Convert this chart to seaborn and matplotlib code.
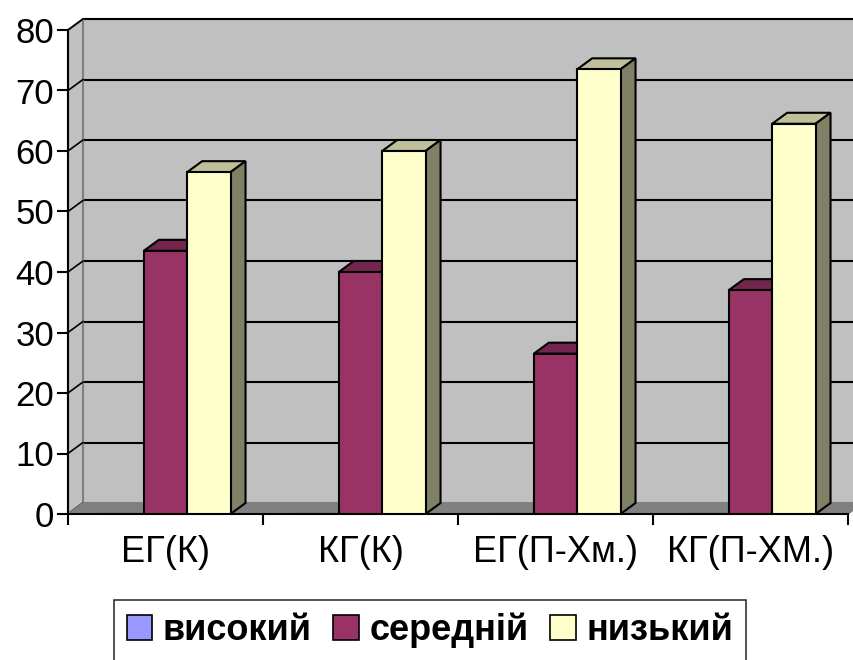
import matplotlib
matplotlib.use("Agg")
import matplotlib.pyplot as plt
from matplotlib.patches import Polygon, Rectangle
import seaborn as sns
import pandas as pd

categories = ["ЕГ(К)", "КГ(К)", "ЕГ(П-Хм.)", "КГ(П-ХМ.)"]
levels = ["високий", "середній", "низький"]
high = [0, 0, 0, 0]
medium = [43.5, 40, 26.5, 37]
low = [56.5, 60, 73.5, 64.5]
yticks = [0, 10, 20, 30, 40, 50, 60, 70, 80]

front_colors = ["#9999FF", "#993366", "#FFFFCC"]
top_colors = ["#7373BF", "#73264D", "#BFBF99"]
side_colors = ["#4D4D80", "#4D1A33", "#808066"]

df = pd.DataFrame({
    "group": categories * 3,
    "level": [levels[0]] * 4 + [levels[1]] * 4 + [levels[2]] * 4,
    "value": high + medium + low,
})

sns.set_style("white")
plt.rcParams["font.family"] = ["Liberation Sans", "DejaVu Sans"]
plt.rcParams["text.color"] = "black"
plt.rcParams["xtick.color"] = "black"
plt.rcParams["ytick.color"] = "black"
plt.rcParams["axes.labelcolor"] = "black"

fig = plt.figure(figsize=(8.54, 6.6), dpi=100)
ax = fig.add_axes([68 / 854, 1 - 514 / 660, 780 / 854, 484 / 660])

sns.barplot(data=df, x="group", y="value", hue="level", order=categories,
            hue_order=levels, palette=front_colors, width=0.667,
            edgecolor="black", linewidth=1.5, saturation=1, ax=ax, zorder=3)
ax.get_legend().remove()

xmin, xmax = -0.5, len(categories) - 0.5
ax.set_xlim(xmin, xmax)
ax.set_ylim(0, 80)

# depth offset of the pseudo 3D look, converted from pixels to data units
depth_x, depth_y = 15, 11
dx = depth_x / (780 / (xmax - xmin))
dy = depth_y / (484 / 80)

# back wall, side wall and floor
ax.add_patch(Rectangle((xmin + dx, dy), xmax - xmin, 80, facecolor="#C0C0C0",
                       edgecolor="#808080", lw=1.5, zorder=0, clip_on=False))
ax.add_patch(Polygon([(xmin, 0), (xmin + dx, dy), (xmin + dx, 80 + dy), (xmin, 80)],
                     closed=True, facecolor="#C0C0C0", edgecolor="#808080",
                     lw=1.5, zorder=0.6, clip_on=False))
for v in yticks[1:]:
    ax.plot([xmin + dx, xmax + dx], [v + dy, v + dy], color="black", lw=1.5,
            zorder=0.5, clip_on=False)
for v in yticks:
    ax.plot([xmin, xmin + dx], [v, v + dy], color="black", lw=1.2,
            zorder=0.7, clip_on=False)
ax.add_patch(Polygon([(xmin, 0), (xmax, 0), (xmax + dx, dy), (xmin + dx, dy)],
                     closed=True, facecolor="#808080", edgecolor="#808080",
                     zorder=0.8, clip_on=False))

# top and side faces of every bar
for i, container in enumerate(ax.containers):
    for bar in container:
        h = bar.get_height()
        if h <= 0:
            continue
        x0 = bar.get_x()
        x1 = x0 + bar.get_width()
        z = 2 + i
        bar.set_zorder(z + 0.5)
        ax.add_patch(Polygon([(x0, h), (x1, h), (x1 + dx, h + dy), (x0 + dx, h + dy)],
                             closed=True, facecolor=top_colors[i], edgecolor="black",
                             lw=1.5, zorder=z, clip_on=False))
        ax.add_patch(Polygon([(x1, 0), (x1 + dx, dy), (x1 + dx, h + dy), (x1, h)],
                             closed=True, facecolor=side_colors[i], edgecolor="black",
                             lw=1.5, zorder=z, clip_on=False))

sns.despine(ax=ax, top=True, right=True)
for side in ["left", "bottom"]:
    ax.spines[side].set_color("black")
    ax.spines[side].set_linewidth(1.5)
    ax.spines[side].set_zorder(1)

ax.set_yticks(yticks)
ax.tick_params(axis="y", direction="out", length=8, width=1.5, color="black",
               labelsize=25, labelcolor="black", pad=2, left=True)
ax.set_xticks(range(len(categories)))
ax.set_xticklabels(categories)
ax.set_xticks([xmin + k for k in range(len(categories) + 1)], minor=True)
ax.tick_params(axis="x", which="major", length=0, labelsize=26,
               labelcolor="black", pad=15)
ax.tick_params(axis="x", which="minor", direction="out", length=8, width=1.5,
               color="black", bottom=True)
ax.set_xlabel("")
ax.set_ylabel("")
ax.set_facecolor("white")
ax.grid(False)

handles = [Rectangle((0, 0), 1, 1, facecolor=c, edgecolor="black", lw=1.2)
           for c in front_colors]
leg = fig.legend(handles, levels, loc="upper center",
                 bbox_to_anchor=(430 / 854, 1 - 600 / 660),
                 ncol=3, frameon=True, fancybox=False, edgecolor="black",
                 prop={"size": 26, "weight": "bold"}, handlelength=0.7,
                 handleheight=0.7, handletextpad=0.3, columnspacing=0.6,
                 borderpad=0.35, borderaxespad=0)
leg.get_frame().set_linewidth(1.2)
for t in leg.get_texts():
    t.set_color("black")

fig.savefig("out.png", dpi=100)
